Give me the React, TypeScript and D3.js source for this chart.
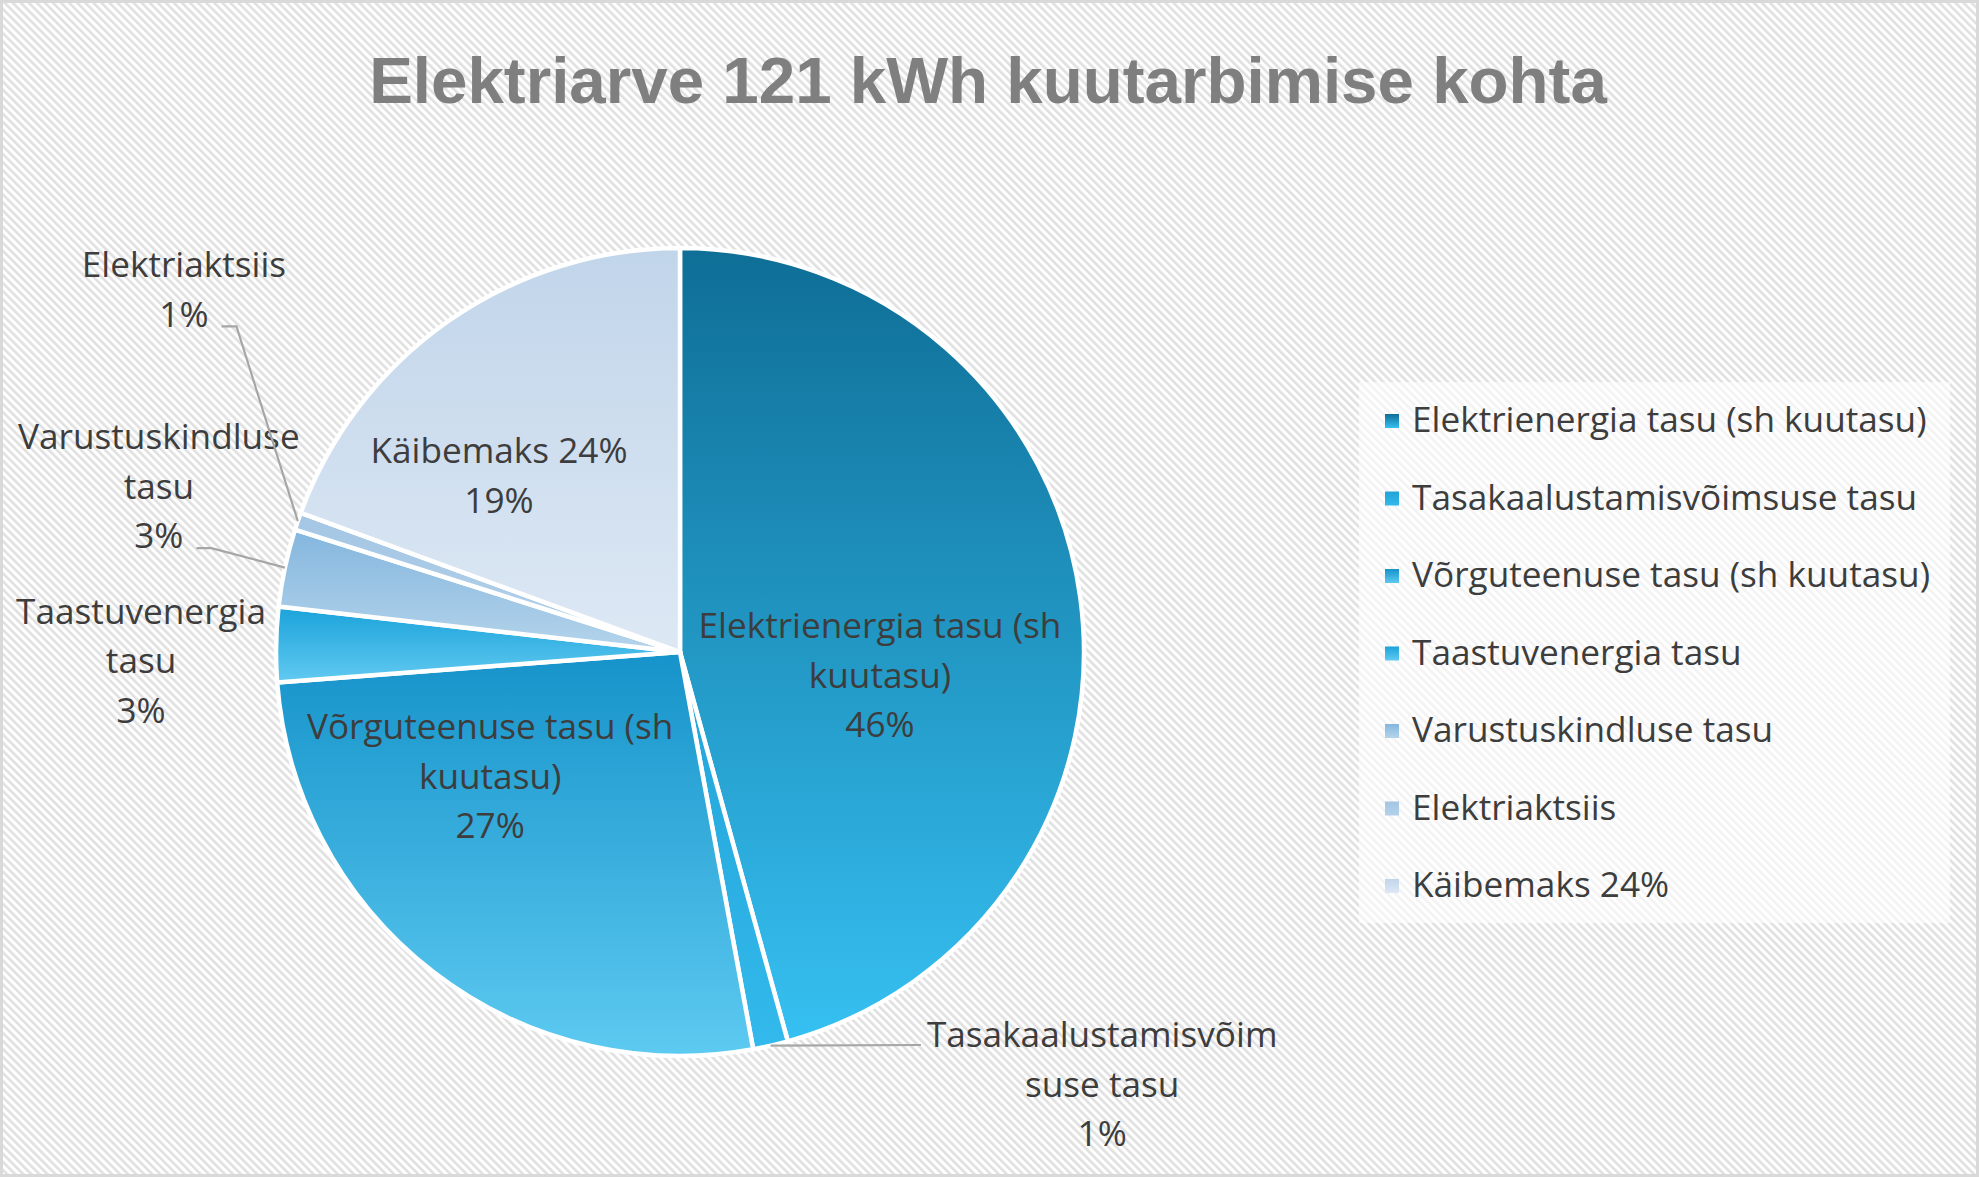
import React, { useEffect, useRef } from 'react';
import * as d3 from 'd3';

// Data
const categories = [
  'Elektrienergia tasu (sh kuutasu)',
  'Tasakaalustamisvõimsuse tasu',
  'Võrguteenuse tasu (sh kuutasu)',
  'Taastuvenergia tasu',
  'Varustuskindluse tasu',
  'Elektriaktsiis',
  'Käibemaks 24%',
];
const shares = [45.7, 1.4, 26.7, 3.0, 3.1, 0.7, 19.4];
const labelLines = [
  ['Elektrienergia tasu (sh', 'kuutasu)'],
  ['Tasakaalustamisvõim', 'suse tasu'],
  ['Võrguteenuse tasu (sh', 'kuutasu)'],
  ['Taastuvenergia', 'tasu'],
  ['Varustuskindluse', 'tasu'],
  ['Elektriaktsiis'],
  ['Käibemaks 24%'],
];
const title = 'Elektriarve 121 kWh kuutarbimise kohta';

// gradient (top -> bottom) for each slice
const gradTop = ['#0E6E96', '#22A3D8', '#1693CA', '#1AA2DA', '#84B6DE', '#A4C6E4', '#C1D5EA'];
const gradBottom = ['#36C0F2', '#33B9EC', '#5DCAF1', '#62CAF1', '#B5D4EB', '#B3D1EA', '#DDE8F4'];

const App: React.FC = () => {
  const svgRef = useRef<SVGSVGElement>(null);

  useEffect(() => {
    if (!svgRef.current) return;
    const width = 1979;
    const height = 1177;
    const cx = 680;
    const cy = 652;
    const R = 404;
    const font = '"Open Sans", "Noto Sans", sans-serif';
    const fontSize = 35.2;
    const lineH = 49.5;
    const textColor = '#3d3d3d';

    // label centers (first line) relative to pie centre, in radius units
    const labelPos: [number, number][] = [
      [0.495, -0.064],
      [1.045, 0.948],
      [-0.47, 0.186],
      [-1.334, -0.101],
      [-1.29, -0.532],
      [-1.228, -0.958],
      [-0.448, -0.498],
    ];
    // leader lines: which side of the label they leave from
    const leaders: { [k: number]: 'left' | 'right' } = { 1: 'left', 4: 'right', 5: 'right' };

    const root = d3.select(svgRef.current);
    root.selectAll('*').remove();
    const svg = root.attr('width', width).attr('height', height).attr('viewBox', `0 0 ${width} ${height}`);

    const defs = svg.append('defs');
    const pat = defs.append('pattern')
      .attr('id', 'stripes')
      .attr('patternUnits', 'userSpaceOnUse')
      .attr('width', 5.7)
      .attr('height', 5.7)
      .attr('patternTransform', 'rotate(-45)');
    pat.append('rect').attr('width', 5.7).attr('height', 5.7).attr('fill', '#ffffff');
    pat.append('rect').attr('width', 2.6).attr('height', 5.7).attr('fill', '#e0e0e0');

    shares.forEach((_, i) => {
      const g = defs.append('linearGradient')
        .attr('id', `grad${i}`)
        .attr('x1', 0).attr('y1', 0).attr('x2', 0).attr('y2', 1);
      g.append('stop').attr('offset', '0%').attr('stop-color', gradTop[i]);
      g.append('stop').attr('offset', '100%').attr('stop-color', gradBottom[i]);
    });

    // background
    svg.append('rect')
      .attr('x', 1.5).attr('y', 1.5)
      .attr('width', width - 3).attr('height', height - 3)
      .attr('fill', 'url(#stripes)')
      .attr('stroke', '#d9d9d9')
      .attr('stroke-width', 3);

    // title
    svg.append('text')
      .attr('x', 988)
      .attr('y', 103)
      .attr('text-anchor', 'middle')
      .attr('font-family', '"Liberation Sans", Arial, sans-serif')
      .attr('font-weight', 'bold')
      .attr('font-size', 65.5)
      .attr('fill', '#7f7f7f')
      .text(title);

    const pie = d3.pie<number>().sort(null).value(d => d);
    const arcs = pie(shares);
    const arc = d3.arc<d3.PieArcDatum<number>>().innerRadius(0).outerRadius(R);

    const g = svg.append('g').attr('transform', `translate(${cx},${cy})`);

    g.selectAll('path.slice')
      .data(arcs)
      .join('path')
      .attr('class', 'slice')
      .attr('d', arc)
      .attr('fill', (_, i) => `url(#grad${i})`)
      .attr('stroke', '#ffffff')
      .attr('stroke-width', 4.5)
      .attr('stroke-linejoin', 'round');

    const pct = d3.format('.0%');

    arcs.forEach((a, i) => {
      const [lx, ly] = labelPos[i];
      const x = lx * R;
      const y0 = ly * R;
      const lines = [...labelLines[i], pct(shares[i] / 100)];
      const txt = g.append('text')
        .attr('text-anchor', 'middle')
        .attr('font-family', font)
        .attr('font-size', fontSize)
        .attr('fill', textColor);
      const spans = lines.map((l, k) =>
        txt.append('tspan')
          .attr('x', x)
          .attr('y', y0 + k * lineH + fontSize * 0.35)
          .text(l)
      );

      const side = leaders[i];
      if (side) {
        const mid = (a.startAngle + a.endAngle) / 2;
        const px = Math.sin(mid) * R;
        const py = -Math.cos(mid) * R;
        let pts: [number, number][];
        if (side === 'right') {
          const last = spans[spans.length - 1].node() as SVGTSpanElement;
          const w = last.getComputedTextLength();
          const sy = y0 + (lines.length - 1) * lineH + 12;
          const sx = x + w / 2 + 13;
          pts = [[sx, sy], [sx + 15, sy], [px, py]];
        } else {
          const first = spans[0].node() as SVGTSpanElement;
          const w = first.getComputedTextLength();
          const sy = y0 + 10;
          const sx = x - w / 2 - 6;
          pts = [[sx, sy], [px, py]];
        }
        g.append('path')
          .attr('d', d3.line()(pts))
          .attr('fill', 'none')
          .attr('stroke', '#a6a6a6')
          .attr('stroke-width', 2.2);
      }
    });

    // legend
    const legend = svg.append('g');
    legend.append('rect')
      .attr('x', 1359).attr('y', 382)
      .attr('width', 591).attr('height', 541)
      .attr('fill', '#ffffff')
      .attr('fill-opacity', 0.6);
    const rowY = d3.scalePoint<string>().domain(categories).range([420, 885]);
    categories.forEach((c, i) => {
      const y = rowY(c)!;
      legend.append('rect')
        .attr('x', 1385).attr('y', y - 6)
        .attr('width', 14).attr('height', 14)
        .attr('fill', `url(#grad${i})`);
      legend.append('text')
        .attr('x', 1412)
        .attr('y', y + fontSize * 0.35)
        .attr('font-family', font)
        .attr('font-size', fontSize)
        .attr('fill', textColor)
        .text(c);
    });
  }, []);

  return <svg ref={svgRef} style={{ position: 'absolute', left: 0, top: 0, display: 'block' }}></svg>;
};

export default App;
